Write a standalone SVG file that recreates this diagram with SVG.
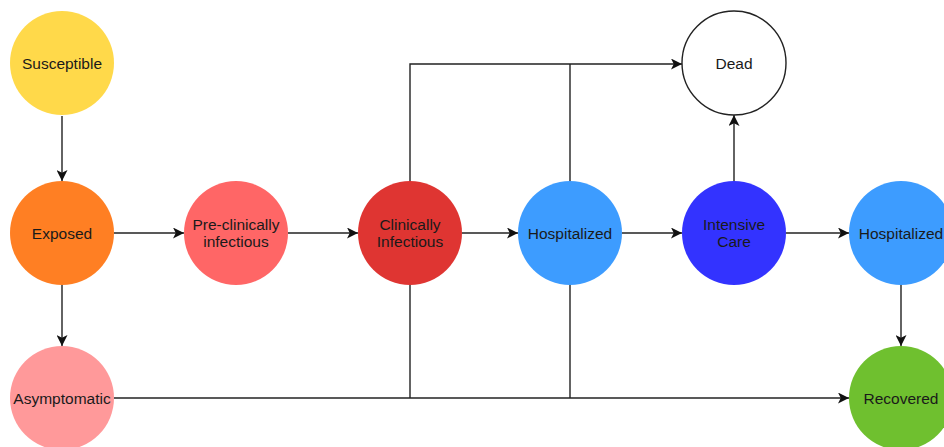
<svg xmlns="http://www.w3.org/2000/svg" width="944" height="447" viewBox="0 0 944 447">
<style>
.n text{font-family:"Liberation Sans",Arial,sans-serif;font-size:15.5px;fill:#1a1a1a;text-anchor:middle}
.c line,.c path{stroke:#222;stroke-width:1.4;fill:none}
</style>
<defs>
<marker id="ah" viewBox="0 0 10 10" refX="10" refY="5" markerWidth="11" markerHeight="11" markerUnits="userSpaceOnUse" orient="auto">
<path d="M0,0 L10,5 L0,10 L2.5,5 Z" fill="#111"/>
</marker>
</defs>
<rect width="944" height="447" fill="#fff"/>
<g class="c">
<line x1="62" y1="116" x2="62" y2="181" marker-end="url(#ah)"/>
<line x1="114" y1="233" x2="184" y2="233" marker-end="url(#ah)"/>
<line x1="62" y1="285" x2="62" y2="346" marker-end="url(#ah)"/>
<line x1="288" y1="233" x2="358" y2="233" marker-end="url(#ah)"/>
<line x1="462" y1="233" x2="518" y2="233" marker-end="url(#ah)"/>
<line x1="622" y1="233" x2="682" y2="233" marker-end="url(#ah)"/>
<line x1="786" y1="233" x2="849" y2="233" marker-end="url(#ah)"/>
<line x1="734" y1="181" x2="734" y2="115" marker-end="url(#ah)"/>
<line x1="901" y1="285" x2="901" y2="346" marker-end="url(#ah)"/>
<path d="M410,181 V64 H682" marker-end="url(#ah)"/>
<line x1="570" y1="181" x2="570" y2="64"/>
<line x1="114" y1="398" x2="849" y2="398" marker-end="url(#ah)"/>
<line x1="410" y1="285" x2="410" y2="398"/>
<line x1="570" y1="285" x2="570" y2="398"/>
</g>
<g id="susceptible" class="n"><circle cx="62" cy="63" r="52" fill="#FFD94A"/><text x="62" y="69">Susceptible</text></g>
<g id="exposed" class="n"><circle cx="62" cy="233" r="52" fill="#FF7F23"/><text x="62" y="239">Exposed</text></g>
<g id="asymptomatic" class="n"><circle cx="62" cy="398" r="52" fill="#FF999A"/><text x="62" y="404">Asymptomatic</text></g>
<g id="preclinical" class="n"><circle cx="236" cy="233" r="52" fill="#FF6666"/><text x="236" y="230">Pre-clinically</text><text x="236" y="247">infectious</text></g>
<g id="clinical" class="n"><circle cx="410" cy="233" r="52" fill="#DF3532"/><text x="410" y="230">Clinically</text><text x="410" y="247">Infectious</text></g>
<g id="hospitalized1" class="n"><circle cx="570" cy="233" r="52" fill="#3D9CFF"/><text x="570" y="239">Hospitalized</text></g>
<g id="icu" class="n"><circle cx="734" cy="233" r="52" fill="#3333FF"/><text x="734" y="230">Intensive</text><text x="734" y="247">Care</text></g>
<g id="hospitalized2" class="n"><circle cx="901" cy="233" r="52" fill="#3D9CFF"/><text x="901" y="239">Hospitalized</text></g>
<g id="dead" class="n"><circle cx="734" cy="63" r="52" fill="#fff" stroke="#222" stroke-width="1.4"/><text x="734" y="69">Dead</text></g>
<g id="recovered" class="n"><circle cx="901" cy="398" r="52" fill="#6FC02F"/><text x="901" y="404">Recovered</text></g>
</svg>
